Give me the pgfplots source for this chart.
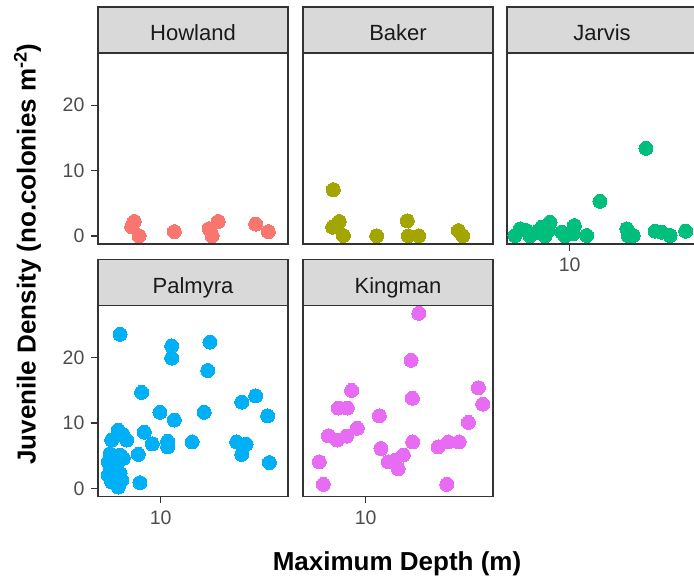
\documentclass[border=0pt]{standalone}
\usepackage{fontspec}
\setmainfont{Liberation Sans}
\usepackage{pgfplots}
\pgfplotsset{compat=1.18}
\definecolor{cHow}{HTML}{F8766D}
\definecolor{cBak}{HTML}{A3A500}
\definecolor{cJar}{HTML}{00BF7D}
\definecolor{cPal}{HTML}{00B0F6}
\definecolor{cKin}{HTML}{E76BF3}
\definecolor{stripfill}{HTML}{D9D9D9}
\definecolor{frame}{HTML}{333333}
\definecolor{ticktext}{HTML}{4D4D4D}
\definecolor{striptext}{HTML}{1A1A1A}
\pgfplotsset{
  myfacet/.style={
    scale only axis, width=190bp, height=191bp,
    xmin=4.571, xmax=48.98,
    ymin=-1.25, ymax=28,
    axis line style={draw=frame, line width=1.4bp},
    tick style={draw=frame, line width=1.4bp},
    tick align=outside, major tick length=6.6bp,
    xtick pos=bottom, ytick pos=left,
    xminorticks=false, yminorticks=false,
    ticklabel style={font=\fontsize{19.5bp}{19.5bp}\selectfont, text=ticktext},
    yticklabel style={xshift=-3.5bp},
    xticklabel style={yshift=-4bp},
    /pgf/number format/assume math mode=true,
    axis on top, anchor=north west,
  },
  mk/.style={only marks, mark=*, mark size=7bp, color=#1, mark options={draw=#1, fill=#1, line width=0pt}},
}
\newcommand\strip[3]{%
  \draw[fill=stripfill, draw=frame, line width=1.4bp] (#1bp,-#2bp) rectangle ++(190bp,-46bp);
  \node[anchor=base, text=striptext, font=\fontsize{22bp}{22bp}\selectfont, inner sep=0pt] at (#1bp+95bp,-#2bp-33.8bp) {#3};}
\begin{document}
\begin{tikzpicture}
\useasboundingbox (0,0) rectangle (694bp,-580bp);
\clip (0,0) rectangle (694bp,-580bp);
% ---- Howland
\begin{axis}[xmode=log, myfacet, xtick=\empty, ytick={0,10,20}, yticklabels={0,10,20}, at={(98bp,-53bp)}]
\addplot[mk=cHow] coordinates {
(7.19,2.2)(6.96,1.4)(7.63,0)(11.85,0.65)(20.5,2.2)(18.3,1.1)(19.0,0)(32.7,1.8)(38.3,0.65)};
\end{axis}
% ---- Baker
\begin{axis}[xmode=log, myfacet, xtick=\empty, ytick=\empty, at={(303bp,-53bp)}]
\addplot[mk=cBak] coordinates {
(6.67,7.07)(6.62,1.33)(7.19,2.2)(7.56,0.05)(11.47,0)(16.8,2.3)(17.0,0)(19.4,0)(31.8,0.8)(33.6,0)};
\end{axis}
% ---- Jarvis
\begin{axis}[xmode=log, myfacet, xtick={10}, xticklabels={10}, ytick=\empty, at={(507bp,-53bp)}]
\addplot[mk=cJar] coordinates {
(5.05,0.05)(5.38,1.07)(5.84,0.8)(6.09,0)(6.62,0.56)(7.05,1.33)(7.35,0)(7.82,2.09)(7.66,0.8)
(9.05,0.56)(9.43,0)(10.59,1.57)(10.45,0.3)(12.36,0.05)(14.59,5.3)(20.4,1.07)(20.8,0)(22.1,0.05)
(25.9,13.4)(29.0,0.72)(31.5,0.56)(35.0,0.05)(42.5,0.72)};
\end{axis}
% ---- Palmyra
\begin{axis}[xmode=log, myfacet, xtick={10}, xticklabels={10}, ytick={0,10,20}, yticklabels={0,10,20}, at={(98bp,-305.5bp)}]
\addplot[mk=cPal] coordinates {
(6.02,23.6)(11.47,21.8)(11.47,19.95)(18.5,22.4)(17.98,18.05)(7.88,14.7)(27.5,13.2)(32.7,14.15)
(38.0,11.1)(9.91,11.65)(11.85,10.46)(17.2,11.65)(5.89,8.9)(5.42,7.4)(6.54,7.4)(6.27,8.15)
(8.15,8.6)(9.0,6.8)(10.9,7.2)(10.9,6.35)(14.8,7.1)(25.8,7.1)(29.0,6.77)(27.5,5.2)(7.56,5.2)
(38.8,3.95)(7.72,0.87)
(5.31,5.3)(6.02,5.1)(6.27,4.6)(5.2,4.05)(5.77,3.8)(5.31,2.77)(6.02,2.26)(5.2,2.0)(5.65,1.5)
(6.14,1.23)(5.89,0.2)(5.42,0.97)};
\end{axis}
% ---- Kingman
\begin{axis}[xmode=log, myfacet, xtick={10}, xticklabels={10}, ytick=\empty, at={(303bp,-305.5bp)}]
\addplot[mk=cKin] coordinates {
(19.4,26.8)(17.6,19.6)(17.9,13.8)(8.39,15.0)(7.1,12.3)(7.95,12.3)(11.85,11.1)(40.8,15.4)
(43.1,12.9)(36.0,10.1)(6.27,8.05)(7.01,7.4)(7.88,8.0)(9.0,9.2)(12.1,6.1)(17.98,7.1)(24.7,6.35)
(28.0,7.1)(32.1,7.1)(5.6,4.05)(5.89,0.6)(27.5,0.6)(13.26,4.05)(14.4,4.3)(16.0,5.1)(15.0,3.0)};
\end{axis}
% ---- strips
\strip{98}{7}{Howland}
\strip{303}{7}{Baker}
\strip{507}{7}{Jarvis}
\strip{98}{259.5}{Palmyra}
\strip{303}{259.5}{Kingman}
% ---- axis titles
\node[anchor=base, font=\bfseries\fontsize{26bp}{26bp}\selectfont, inner sep=0pt] at (397bp,-570bp) {Maximum Depth (m)};
\node[anchor=base, rotate=90, font=\bfseries\fontsize{26bp}{26bp}\selectfont, inner sep=0pt] at (35.5bp,-254bp) {Juvenile Density (no.colonies m\textsuperscript{-2})};
\end{tikzpicture}
\end{document}
